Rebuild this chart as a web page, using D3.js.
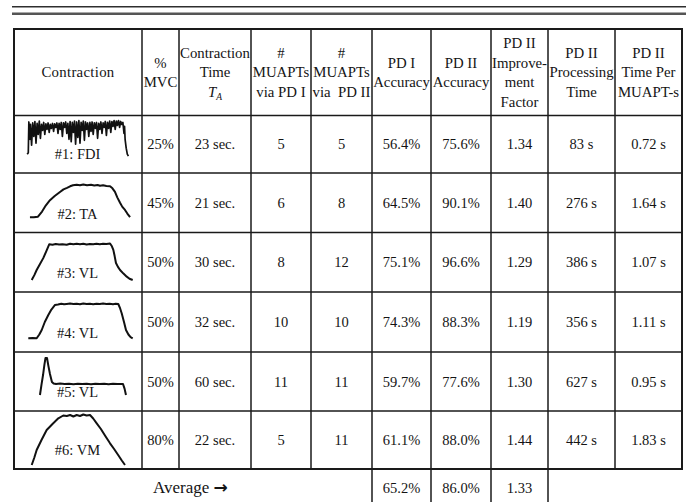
<!DOCTYPE html>
<html>
<head>
<meta charset="utf-8">
<script src="https://cdn.jsdelivr.net/npm/d3@7"></script>
<style>
  html, body { margin: 0; padding: 0; background: #fff; }
  svg { display: block; }
  text { font-family: "Liberation Serif", "Times New Roman", serif; fill: #141414; }
</style>
</head>
<body>
<svg id="tbl" width="686" height="502"></svg>
<script>
// ---- table content ----
const headerLines = [
  ["Contraction"],
  ["%", "MVC"],
  ["Contraction", "Time", "T_A"],
  ["#", "MUAPTs", "via PD I"],
  ["#", "MUAPTs", "via  PD II"],
  ["PD I", "Accuracy"],
  ["PD II", "Accuracy"],
  ["PD II", "Improve-", "ment", "Factor"],
  ["PD II", "Processing", "Time"],
  ["PD II", "Time Per", "MUAPT-s"]
];

const contractions = ["#1: FDI", "#2: TA", "#3: VL", "#4: VL", "#5: VL", "#6: VM"];
const mvcPercent = [25, 45, 50, 50, 50, 80];
const contractionSec = [23, 21, 30, 32, 60, 22];
const muaptsPD1 = [5, 6, 8, 10, 11, 5];
const muaptsPD2 = [5, 8, 12, 10, 11, 11];
const accuracyPD1 = [56.4, 64.5, 75.1, 74.3, 59.7, 61.1];
const accuracyPD2 = [75.6, 90.1, 96.6, 88.3, 77.6, 88.0];
const improvement = [1.34, 1.40, 1.29, 1.19, 1.30, 1.44];
const processingSec = [83, 276, 386, 356, 627, 442];
const timePerMuapt = [0.72, 1.64, 1.07, 1.11, 0.95, 1.83];

const avgAccuracyPD1 = 65.2;
const avgAccuracyPD2 = 86.0;
const avgImprovement = 1.33;

// force profiles: [time % of contraction, force % of plot height]
const forceFDI = [
  [2,30],[3,33],[3.5,95],[4.5,60],[5,90],[6,48],[7,93],[8,66],[9,96],[10,52],[11,92],[12,70],
  [13,97],[14,62],[15,90],[16,78],[17,94],[18,70],[19,91],[20,80],[21,93],[22,74],[23,90],
  [24,82],[25,92],[26,76],[27,91],[28,84],[29,93],[30,72],[31,92],[32,80],[33,94],[34,66],
  [35,93],[36,84],[37,95],[38,72],[39,92],[40,60],[41,96],[42,55],[43,94],[44,74],[45,97],
  [46,50],[47,95],[48,64],[49,98],[50,52],[51,94],[52,78],[53,97],[54,58],[55,95],[56,80],
  [57,93],[58,66],[59,94],[60,76],[61,95],[62,70],[63,93],[64,82],[65,94],[66,62],[67,92],
  [68,80],[69,95],[70,72],[71,93],[72,84],[73,96],[74,68],[75,94],[76,82],[77,97],[78,74],
  [79,96],[80,86],[81,98],[82,80],[83,97],[84,88],[85,98],[86,84],[87,96],[88,90],[89,94],
  [90,72],[90.5,86],[91,60],[92,42],[93,30],[94,26]
];
const forceTA = [
  [4.5,22],[8,22],[11.8,23],[15.5,33],[19,45],[22.7,55],[27,63],[31.8,71],[35,76],[38.2,79],
  [41,82],[43.6,84],[47,85],[50,84],[53,85.5],[56.4,84],[60,85],[63,83.5],[66,84.5],[68.2,83],
  [71,84],[74,82.5],[77.3,82],[79.5,78],[81.8,71],[84,60],[86.4,50],[88.5,42],[90.9,36],
  [93,29],[95.5,22]
];
const forceVL3 = [
  [6.1,15.5],[8.5,25],[10.6,35],[13.5,46],[16.6,58],[19.5,72],[22.1,85],[25,84],[28,85.5],
  [31,84.5],[34,85],[37.9,84],[41,86],[44,85],[47,86],[50,85],[53,86],[56,84.5],[59,85.5],
  [62,85],[65,86],[68,85],[71,86],[74,85.5],[77.3,86.5],[79,81],[80.3,74],[81.5,62],
  [82.7,48.5],[84.5,41],[86.4,35],[89.5,28],[92.5,22],[95,18],[97.9,15.5]
];
const forceVL4 = [
  [3,18.7],[7,19],[10.6,18.7],[13,26],[15.2,34.6],[18,50],[21.2,63.5],[24,74],[27.3,82.7],
  [30,83.5],[33,85],[35.5,84],[37.9,84.6],[41,85.5],[44,84.5],[47,85],[50,84],[53,85.5],
  [56,84.5],[59,85],[62,84],[65,85],[68,84.5],[71,85.5],[74,84.5],[77,85],[80,84],[82.5,85],
  [84.8,84.6],[86.5,76],[87.9,66.7],[90,50],[91.8,34.6],[94,26],[96,21],[97.9,18.7]
];
const forceVL5 = [
  [13.6,23.5],[15,44],[16.4,62.7],[17.6,82],[18.6,96],[20,96],[21.3,80],[22.7,64.7],[24.5,49],
  [26,46],[28.2,45],[32,46],[36,45],[40,45.5],[44,44.5],[48,45.5],[52,45],[56,45.5],[60,44.5],
  [64,45.5],[68,45],[72,45.5],[76,44.5],[80,45.5],[84,45],[89.1,45],[90.5,36],[91.8,23.5]
];
const forceVM6 = [
  [6.1,0],[8.5,15],[10.6,30],[15,50],[19.7,70],[25,82],[30.3,93.4],[34.8,99],[38,98],[41,100],
  [44,97],[47,100],[50,98],[53,101],[56,99],[59.1,100],[62,93],[65.2,83.4],[69,72],[73,58],
  [77.3,43.4],[81,32],[85,19],[88,9],[90.9,0]
];
const forceProfiles = [forceFDI, forceTA, forceVL3, forceVL4, forceVL5, forceVM6];

// ---- layout ----
const colEdges = [14, 142, 179, 251, 311, 372, 431, 491, 548, 615, 682];
const rowEdges = [29, 115.5, 173, 232.5, 292, 352, 411, 469];
const bottomEdge = 502;
const ink = "#1a1a1a";

const svg = d3.select("#tbl");
svg.append("rect").attr("width", 686).attr("height", 502).attr("fill", "#fff");

const colIdx = d3.range(headerLines.length);
const xLeft = d3.scaleOrdinal().domain(colIdx).range(colEdges.slice(0, -1));
const xRight = d3.scaleOrdinal().domain(colIdx).range(colEdges.slice(1));
const xMid = i => (xLeft(i) + xRight(i)) / 2;
const rowIdx = d3.range(contractions.length);
const yTop = d3.scaleOrdinal().domain(rowIdx).range(rowEdges.slice(1, -1));
const yBot = d3.scaleOrdinal().domain(rowIdx).range(rowEdges.slice(2));
const yMid = r => (yTop(r) + yBot(r)) / 2;

// double rule above the table
svg.append("line").attr("x1", 12).attr("x2", 686).attr("y1", 6.8).attr("y2", 6.8)
  .attr("stroke", "#2e2e2e").attr("stroke-width", 1.4);
svg.append("line").attr("x1", 12).attr("x2", 686).attr("y1", 13.8).attr("y2", 13.8)
  .attr("stroke", "#555").attr("stroke-width", 2.6);

// grid
const grid = svg.append("g").attr("stroke", ink).attr("fill", "none");
rowEdges.slice(1, -1).forEach(y => {
  grid.append("line").attr("x1", colEdges[0]).attr("x2", colEdges[colEdges.length - 1])
    .attr("y1", y).attr("y2", y).attr("stroke-width", 1.5);
});
colEdges.slice(1, -1).forEach(x => {
  grid.append("line").attr("x1", x).attr("x2", x)
    .attr("y1", rowEdges[0]).attr("y2", rowEdges[rowEdges.length - 1]).attr("stroke-width", 1.5);
});
grid.append("rect")
  .attr("x", colEdges[0]).attr("y", rowEdges[0])
  .attr("width", colEdges[colEdges.length - 1] - colEdges[0])
  .attr("height", rowEdges[rowEdges.length - 1] - rowEdges[0])
  .attr("stroke-width", 2);
// average row separators (accuracy / improvement cells)
[5, 6, 7, 8].forEach(c => {
  grid.append("line").attr("x1", xLeft(c)).attr("x2", xLeft(c))
    .attr("y1", rowEdges[rowEdges.length - 1]).attr("y2", bottomEdge).attr("stroke-width", 1.5);
});

// header
const fs = 14.5;
const headFs = 14.8;
const lineGap = 19.5;
const headMid = (rowEdges[0] + rowEdges[1]) / 2;
const head = svg.append("g").attr("font-size", headFs).attr("text-anchor", "middle");
headerLines.forEach((lines, c) => {
  const y0 = headMid - (lines.length - 1) * lineGap / 2;
  lines.forEach((ln, k) => {
    const t = head.append("text").attr("x", xMid(c)).attr("y", y0 + k * lineGap + 5)
      .attr("xml:space", "preserve");
    if (c === 0) t.attr("letter-spacing", 0.3);
    if (ln === "T_A") {
      t.append("tspan").attr("font-style", "italic").text("T");
      t.append("tspan").attr("font-style", "italic").attr("font-size", 9.5).attr("dy", 3).text("A");
    } else {
      t.text(ln);
    }
  });
});

// body cells
const cellText = [
  null,
  r => mvcPercent[r] + "%",
  r => contractionSec[r] + " sec.",
  r => String(muaptsPD1[r]),
  r => String(muaptsPD2[r]),
  r => accuracyPD1[r].toFixed(1) + "%",
  r => accuracyPD2[r].toFixed(1) + "%",
  r => improvement[r].toFixed(2),
  r => processingSec[r] + " s",
  r => timePerMuapt[r].toFixed(2) + " s"
];
const body = svg.append("g").attr("font-size", fs).attr("text-anchor", "middle");
rowIdx.forEach(r => {
  cellText.forEach((fmt, c) => {
    if (!fmt) return;
    body.append("text").attr("x", xMid(c)).attr("y", yMid(r) + 5).text(fmt(r));
  });
});

// force traces in the first column
const tScale = d3.scaleLinear().domain([0, 100]).range([25, 135]);
rowIdx.forEach(r => {
  const fScale = d3.scaleLinear().domain([0, 100]).range([yBot(r) - 4, yTop(r) + 4]);
  const line = d3.line().x(d => tScale(d[0])).y(d => fScale(d[1]));
  svg.append("path").datum(forceProfiles[r])
    .attr("d", line).attr("fill", "none").attr("stroke", "#111")
    .attr("stroke-width", r === 0 ? 1.7 : 2).attr("stroke-linejoin", "round");
  svg.append("text").attr("x", 77.5).attr("y", yBot(r) - 14)
    .attr("font-size", fs).attr("text-anchor", "middle").text(contractions[r]);
});

// average row
const avgY = 493;
const avgText = svg.append("text").attr("x", 153).attr("y", avgY).attr("font-size", 17);
avgText.append("tspan").text("Average ");
avgText.append("tspan").attr("font-family", "DejaVu Sans").attr("font-weight", "bold")
  .attr("font-size", 17).text("→");
const avgVals = [[5, avgAccuracyPD1.toFixed(1) + "%"], [6, avgAccuracyPD2.toFixed(1) + "%"], [7, avgImprovement.toFixed(2)]];
avgVals.forEach(([c, v]) => {
  svg.append("text").attr("x", xMid(c)).attr("y", avgY).attr("font-size", fs)
    .attr("text-anchor", "middle").text(v);
});
</script>
</body>
</html>
